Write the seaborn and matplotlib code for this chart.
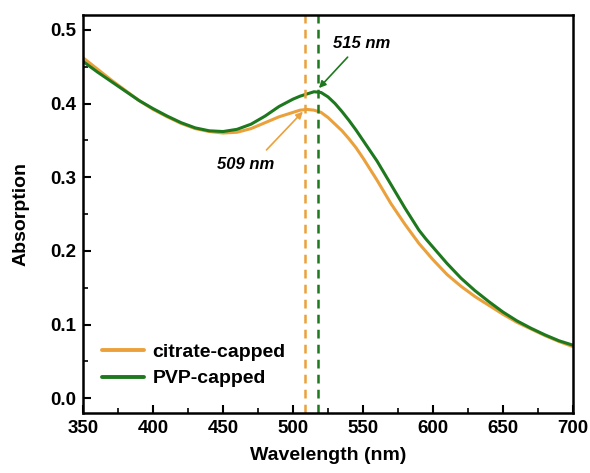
import matplotlib
matplotlib.use("Agg")
import matplotlib.pyplot as plt
from matplotlib.ticker import MultipleLocator, AutoMinorLocator
import seaborn as sns
import pandas as pd

# ---------- data ----------
wavelength = [350, 360, 370, 380, 390, 400, 410, 420, 430, 440, 450, 460, 470, 480, 490,
              500, 505, 510, 515, 520, 525, 530, 535, 540, 545, 550, 555, 560, 565, 570,
              575, 580, 585, 590, 595, 600, 610, 620, 630, 640, 650, 660, 670, 680, 690, 700]
citrate = [0.462, 0.447, 0.432, 0.418, 0.404, 0.392, 0.382, 0.373, 0.366, 0.362, 0.360, 0.361,
           0.366, 0.374, 0.382, 0.388, 0.391, 0.392, 0.391, 0.388, 0.381, 0.372, 0.363,
           0.352, 0.340, 0.326, 0.311, 0.296, 0.280, 0.264, 0.250, 0.236, 0.223, 0.210,
           0.199, 0.188, 0.168, 0.152, 0.138, 0.126, 0.114, 0.103, 0.094, 0.085, 0.077, 0.070]
pvp = [0.457, 0.443, 0.430, 0.417, 0.404, 0.393, 0.383, 0.374, 0.367, 0.363, 0.362, 0.365,
       0.372, 0.383, 0.396, 0.406, 0.410, 0.413, 0.416, 0.415, 0.409, 0.400, 0.389,
       0.377, 0.364, 0.350, 0.336, 0.322, 0.306, 0.290, 0.274, 0.258, 0.243, 0.228,
       0.216, 0.205, 0.183, 0.163, 0.146, 0.131, 0.117, 0.105, 0.095, 0.086, 0.078, 0.072]
series_names = ["citrate-capped", "PVP-capped"]
peak_lines = [508.5, 517.5]
peak_labels = ["509 nm", "515 nm"]

orange = "#EBA13B"
green = "#1E781E"

df = pd.DataFrame({
    "Wavelength": wavelength * 2,
    "Absorption": citrate + pvp,
    "Sample": [series_names[0]] * len(wavelength) + [series_names[1]] * len(wavelength),
})

sns.set_style("ticks")
plt.rcParams["font.family"] = ["Liberation Sans", "DejaVu Sans"]
plt.rcParams["font.weight"] = "bold"
plt.rcParams["text.color"] = "black"
plt.rcParams["axes.labelcolor"] = "black"
plt.rcParams["xtick.color"] = "black"
plt.rcParams["ytick.color"] = "black"
plt.rcParams["axes.edgecolor"] = "black"

fig = plt.figure(figsize=(5.9, 4.73), dpi=100)
ax = fig.add_axes([0.141, 0.127, 0.830, 0.841])

sns.lineplot(data=df, x="Wavelength", y="Absorption", hue="Sample",
             palette=[orange, green], linewidth=2.2, ax=ax)

ax.axvline(peak_lines[0], color=orange, linestyle=(0, (3.5, 2.5)), linewidth=1.8)
ax.axvline(peak_lines[1], color=green, linestyle=(0, (3.5, 2.5)), linewidth=1.8)

# peak annotations
ax.text(466, 0.317, peak_labels[0], fontsize=12, fontweight="bold", style="italic",
        ha="center", va="center")
ax.annotate("", xy=(507, 0.389), xytext=(481, 0.337),
            arrowprops=dict(arrowstyle="-|>", color=orange, lw=1.2,
                            shrinkA=0, shrinkB=0, mutation_scale=10))
ax.text(549, 0.482, peak_labels[1], fontsize=12, fontweight="bold", style="italic",
        ha="center", va="center")
ax.annotate("", xy=(518.5, 0.421), xytext=(539, 0.463),
            arrowprops=dict(arrowstyle="-|>", color=green, lw=1.2,
                            shrinkA=0, shrinkB=0, mutation_scale=10))

ax.set_xlim(350, 700)
ax.set_ylim(-0.02, 0.52)
ax.xaxis.set_major_locator(MultipleLocator(50))
ax.yaxis.set_major_locator(MultipleLocator(0.1))
ax.xaxis.set_minor_locator(AutoMinorLocator(2))
ax.yaxis.set_minor_locator(AutoMinorLocator(2))
ax.tick_params(which="major", direction="in", length=6, width=1.5, labelsize=13.5, pad=5)
ax.tick_params(which="minor", direction="in", length=3.5, width=1.2)
ax.tick_params(top=False, right=False, which="both")
for lab in ax.get_xticklabels() + ax.get_yticklabels():
    lab.set_fontweight("bold")
for s in ax.spines.values():
    s.set_linewidth(1.8)
    s.set_visible(True)

ax.set_xlabel("Wavelength (nm)", fontsize=14, fontweight="bold", labelpad=7)
ax.set_ylabel("Absorption", fontsize=14, fontweight="bold", labelpad=15)

leg = ax.legend(loc="lower left", frameon=False, fontsize=14, handlelength=2.2,
                handletextpad=0.4, borderaxespad=0.3, labelspacing=0.45,
                bbox_to_anchor=(0.01, 0.03))
for t in leg.get_texts():
    t.set_fontweight("bold")
for h in leg.get_lines():
    h.set_linewidth(2.8)

fig.savefig("out.png", dpi=100)
